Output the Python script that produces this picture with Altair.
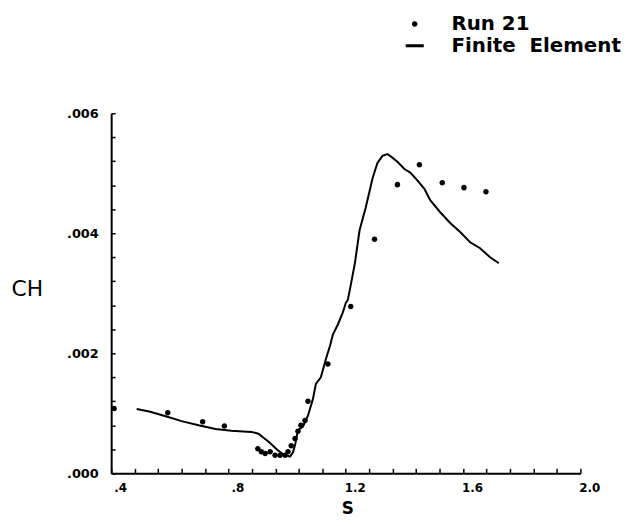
import altair as alt
import pandas as pd

# Finite element curve (S, CH)
fe_s = [0.487, 0.53, 0.586, 0.64, 0.698, 0.756, 0.810, 0.878, 0.902, 0.936, 0.969, 0.99,
        1.010, 1.020, 1.027, 1.037, 1.054, 1.071, 1.088, 1.098, 1.115, 1.132, 1.146, 1.156,
        1.173, 1.190, 1.200, 1.207, 1.214, 1.231, 1.247, 1.268, 1.292, 1.308, 1.325, 1.342,
        1.359, 1.376, 1.400, 1.420, 1.444, 1.468, 1.488, 1.522, 1.556, 1.590, 1.624, 1.658,
        1.692, 1.722]
fe_ch = [0.00107, 0.00103, 0.00095, 0.00087, 0.00080, 0.00074, 0.00071, 0.00069, 0.00066,
         0.00053, 0.00038, 0.00031, 0.00028, 0.00035, 0.00047, 0.00072, 0.00078, 0.00096,
         0.00124, 0.00149, 0.00160, 0.00190, 0.00212, 0.00231, 0.00248, 0.00268, 0.00284,
         0.00289, 0.00306, 0.00350, 0.00405, 0.00443, 0.00493, 0.00517, 0.00529, 0.00532,
         0.00526, 0.00519, 0.00507, 0.00501, 0.00488, 0.00474, 0.00455, 0.00435, 0.00417,
         0.00402, 0.00385, 0.00375, 0.00360, 0.00350]

# Run 21 measurements
run_s = [0.41, 0.593, 0.712, 0.786, 0.90, 0.912, 0.925, 0.942, 0.959, 0.976, 0.993, 1.003,
         1.014, 1.027, 1.037, 1.047, 1.061, 1.071, 1.139, 1.217, 1.298, 1.376, 1.451, 1.529,
         1.603, 1.678]
run_ch = [0.00108, 0.00101, 0.00086, 0.00079, 0.00041, 0.00036, 0.00033, 0.00036, 0.00030,
          0.00030, 0.00030, 0.00036, 0.00046, 0.00058, 0.00070, 0.00080, 0.00088, 0.00120,
          0.00182, 0.00278, 0.00390, 0.00481, 0.00514, 0.00484, 0.00476, 0.00469]

series_names = ["Run 21", "Finite\u00a0 Element"]
x_ticks = [round(0.4 + 0.08 * i, 2) for i in range(21)]
y_ticks = [round(0.0004 * i, 4) for i in range(16)]

fe_df = pd.DataFrame({"S": fe_s, "CH": fe_ch})
run_df = pd.DataFrame({"S": run_s, "CH": run_ch, "series": series_names[0]})

W, H = 473, 363
FONT = "DejaVu Sans"
xscale = alt.Scale(domain=[0.4, 2.0], nice=False, zero=False)
yscale = alt.Scale(domain=[0, 0.006], nice=False, zero=False)

dot_path = "M0.4,0 A0.4,0.4 0 1,1 -0.4,0 A0.4,0.4 0 1,1 0.4,0 Z"
dash_path = "M-1.3,-0.22 H1.3 V0.22 H-1.3 Z"

x_axis = alt.Axis(
    orient="bottom", values=x_ticks, tickCount=100, ticks=True, tickSize={"expr": "-5"},
    tickColor="black", tickWidth=1.5, grid=False,
    domainColor="black", domainWidth=2, labelOverlap=False, labelFlush=False,
    labelExpr=("round(datum.value * 100) % 40 == 0 ? (datum.value < 1 ? "
               "substring(format(datum.value, '.1f'), 1) : format(datum.value, '.1f')) : ''"),
    labelFont=FONT, labelFontWeight="bold", labelFontSize=12, labelColor="black",
    labelPadding=14, labelOffset=9, labelAlign="center",
    title="S", titleFont=FONT, titleFontWeight="bold", titleFontSize=17,
    titleColor="black", titleX=238, titleY=36, titleAlign="center",
    titleBaseline="middle")

y_axis = alt.Axis(
    orient="left", values=y_ticks, tickCount=100, ticks=True, tickSize={"expr": "-4"},
    tickColor="black", tickWidth=1.5, grid=False,
    domainColor="black", domainWidth=2, labelOverlap=False, labelFlush=False,
    labelExpr="round(datum.value * 10000) % 20 == 0 ? substring(format(datum.value, '.3f'), 1) : ''",
    labelFont=FONT, labelFontWeight="bold", labelFontSize=13, labelColor="black",
    labelPadding=17,
    title="CH", titleFont=FONT, titleFontWeight="normal", titleFontSize=22,
    titleColor="black", titleAngle=0, titleX=-85, titleY=177,
    titleAlign="center", titleBaseline="middle")

line = alt.Chart(fe_df).mark_line(color="black", strokeWidth=2).encode(
    x=alt.X("S:Q", scale=xscale, axis=x_axis),
    y=alt.Y("CH:Q", scale=yscale, axis=y_axis),
)

points = alt.Chart(run_df).mark_point(filled=True, color="black", opacity=1,
                                      size=196, strokeWidth=0).encode(
    x=alt.X("S:Q", scale=xscale),
    y=alt.Y("CH:Q", scale=yscale),
    shape=alt.Shape("series:N", scale=alt.Scale(domain=series_names,
                                                range=[dot_path, dash_path]),
                    legend=alt.Legend(
                        title=None, orient="none", legendX=296, legendY=-100,
                        padding=0, direction="vertical", symbolSize=196,
                        symbolFillColor="black", symbolStrokeWidth=0,
                        symbolOpacity=1, labelOffset=27, rowPadding=2,
                        labelLimit=400,
                        labelFont=FONT, labelFontSize=20, labelFontWeight="bold",
                        labelColor="black")),
)

chart = alt.layer(line, points).properties(
    width=W, height=H,
    autosize=alt.AutoSizeParams(type="none"),
    padding={"left": 104, "top": 104, "right": 50, "bottom": 45},
    background="white",
).configure_view(strokeWidth=0)

chart.save("out.html", embed_options={"renderer": "svg", "actions": False})
